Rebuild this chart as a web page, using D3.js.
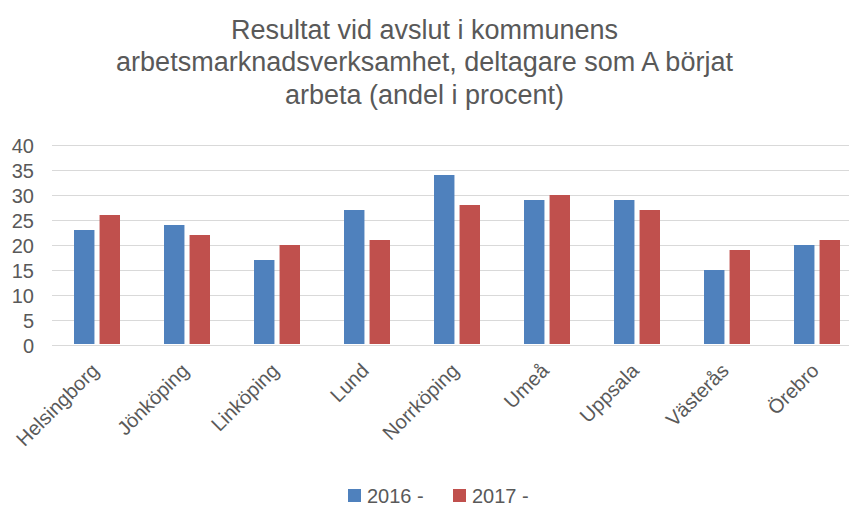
<!DOCTYPE html>
<html>
<head>
<meta charset="utf-8">
<script src="https://cdn.jsdelivr.net/npm/d3@7"></script>
<style>
    body { margin: 0; background: #fff; }
    #chart-area { width: 849px; height: 506px; overflow: hidden; }
    text { font-family: "Liberation Sans", Arial, sans-serif; fill: #595959; }
</style>
</head>
<body>
<div id="chart-area"></div>
<script>

// data
let titleLines = ['Resultat vid avslut i kommunens', 'arbetsmarknadsverksamhet, deltagare som A börjat', 'arbeta (andel i procent)']
let cities = ['Helsingborg', 'Jönköping', 'Linköping', 'Lund', 'Norrköping', 'Umeå', 'Uppsala', 'Västerås', 'Örebro']
let seriesNames = ['2016 -', '2017 -']
let values2016 = [23, 24, 17, 27, 34, 29, 29, 15, 20]
let values2017 = [26, 22, 20, 21, 28, 30, 27, 19, 21]
let yTicks = [0, 5, 10, 15, 20, 25, 30, 35, 40]


class BarVis {

    constructor(parentElement) {
        this.parentElement = parentElement;
        this.colors = ['#4F81BD', '#C0504D']
        this.initVis()
    }

    initVis() {
        let vis = this;

        vis.width = 849;
        vis.height = 506;

        vis.svg = d3.select('#' + vis.parentElement).append('svg')
            .attr('width', vis.width)
            .attr('height', vis.height);

        // title
        vis.svg.append('g')
            .attr('class', 'title')
            .selectAll('text')
            .data(titleLines)
            .enter().append('text')
            .attr('x', 424.5)
            .attr('y', (d, i) => 38.5 + i * 32.5)
            .attr('text-anchor', 'middle')
            .style('font-size', '27px')
            .text(d => d);

        // scales (plot runs past the right edge, like the original)
        vis.x0 = d3.scaleBand()
            .domain(cities)
            .range([52, 862]);

        vis.x1 = d3.scaleBand()
            .domain(seriesNames)
            .range([22, 68])
            .paddingInner(0.2);

        vis.y = d3.scaleLinear()
            .domain([0, 40])
            .range([345, 145]);

        // gridlines
        vis.svg.append('g')
            .attr('class', 'grid')
            .attr('transform', 'translate(52,0)')
            .call(d3.axisLeft(vis.y).tickValues(yTicks).tickSize(-810).tickFormat(''))
            .call(g => g.select('.domain').remove())
            .call(g => g.selectAll('line').attr('stroke', '#D9D9D9').attr('stroke-width', 1.2));

        // y axis labels
        vis.svg.append('g')
            .attr('class', 'axis y-axis')
            .attr('transform', 'translate(34,0)')
            .call(d3.axisLeft(vis.y).tickValues(yTicks).tickSize(0).tickPadding(0))
            .call(g => g.select('.domain').remove())
            .call(g => g.selectAll('text')
                .style('font-size', '20px')
                .attr('fill', '#595959')
                .attr('dy', '0.35em'));

        // bars
        let rows = cities.map((c, i) => ({city: c, vals: [values2016[i], values2017[i]]}));

        let groups = vis.svg.append('g')
            .selectAll('g')
            .data(rows)
            .enter().append('g')
            .attr('transform', d => `translate(${vis.x0(d.city)},0)`);

        groups.selectAll('rect')
            .data(d => d.vals.map((v, j) => ({series: seriesNames[j], value: v, color: vis.colors[j]})))
            .enter().append('rect')
            .attr('x', d => vis.x1(d.series))
            .attr('y', d => vis.y(d.value))
            .attr('width', vis.x1.bandwidth())
            .attr('height', d => vis.y(0) - vis.y(d.value) - 1)
            .attr('fill', d => d.color);

        // x axis labels, rotated
        vis.svg.append('g')
            .attr('class', 'axis x-axis')
            .selectAll('text')
            .data(cities)
            .enter().append('text')
            .attr('transform', d => `translate(${vis.x0(d) + vis.x0.bandwidth() / 2 + 3},372) rotate(-45)`)
            .attr('text-anchor', 'end')
            .style('font-size', '20px')
            .text(d => d);

        // legend
        let legendX = [348, 453];
        let legend = vis.svg.append('g')
            .attr('class', 'legend')
            .selectAll('g')
            .data(seriesNames)
            .enter().append('g')
            .attr('transform', (d, i) => `translate(${legendX[i]},489)`);

        legend.append('rect')
            .attr('width', 13)
            .attr('height', 13)
            .attr('fill', (d, i) => vis.colors[i]);

        legend.append('text')
            .attr('x', 19)
            .attr('y', 13.5)
            .style('font-size', '20px')
            .text(d => d);
    }
}

new BarVis('chart-area');

</script>
</body>
</html>
